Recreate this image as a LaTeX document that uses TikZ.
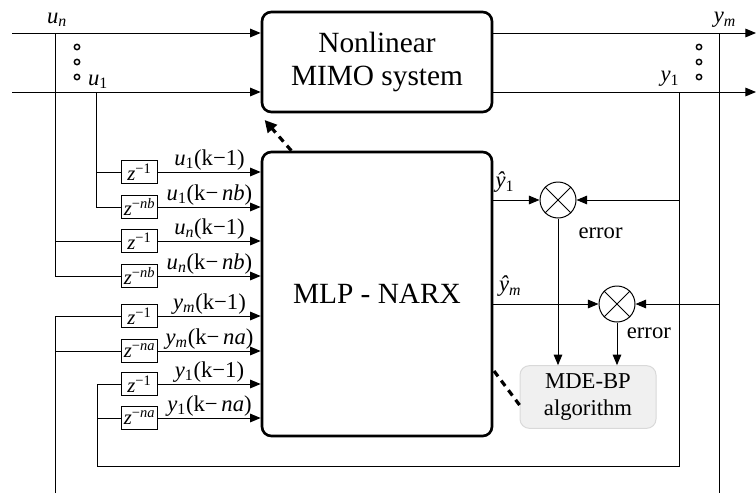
\documentclass[tikz,border=0pt]{standalone}
\usepackage{fontspec}
\setmainfont{Liberation Serif}
\usetikzlibrary{arrows.meta}

\begin{document}
\begin{tikzpicture}[x=0.75pt, y=-0.75pt, line width=0.75pt,
    arw/.style={-{Triangle[length=8pt,width=6.5pt]}},
    blk/.style={draw, line width=2pt, rounded corners=7pt, align=center, font=\fontsize{22}{25}\selectfont},
    zbox/.style={draw, minimum width=27.5pt, minimum height=17pt, inner sep=0pt, font=\fontsize{15.5}{15.5}\selectfont},
    lbl/.style={font=\fontsize{17}{19}\selectfont, inner sep=1pt},
    sum/.style={draw, circle, minimum size=27pt, inner sep=0pt},
    dotc/.style={draw, circle, line width=1.1pt, minimum size=4pt, inner sep=0pt},
    dsh/.style={line width=2.4pt, dash pattern=on 5pt off 4pt}]
  \useasboundingbox (0,0) rectangle (756,493);

  % main blocks
  \node[blk, minimum width=172.5pt, minimum height=75pt] (mimo) at (377,62) {Nonlinear\\MIMO system};
  \node[blk, minimum width=172.5pt, minimum height=213pt] (mlp) at (377,294) {MLP - NARX};
  \node[draw=black!15, fill=black!6, rounded corners=7pt, align=center, minimum width=102pt, minimum height=47pt,
        font=\fontsize{17}{20}\selectfont] (mde) at (588,397) {MDE-BP\\algorithm};
  \node[sum] (s1) at (558,200) {};
  \node[sum] (s2) at (617,304) {};
  \draw (s1.north west) -- (s1.south east) (s1.north east) -- (s1.south west);
  \draw (s2.north west) -- (s2.south east) (s2.north east) -- (s2.south west);

  % inputs u
  \coordinate (un) at (12,33);
  \coordinate (u1) at (12,92);
  \draw[arw] (un) -- (un -| mimo.west);
  \draw[arw] (u1) -- (u1 -| mimo.west);
  \node[lbl] (unl) at (57,20) {\textit{u}\textsubscript{\textit{n}}};
  \node[lbl] (u1l) at (98,82) {\textit{u}\textsubscript{1}};
  \foreach \yy [count=\i] in {47,62,77} {
    \node[dotc] (ld\i) at (77,\yy) {};
    \node[dotc] (rd\i) at (699,\yy) {};
  }

  % outputs y
  \coordinate (ym) at (756,33);
  \coordinate (y1) at (756,92);
  \draw[arw] (ym -| mimo.east) -- (ym);
  \draw[arw] (y1 -| mimo.east) -- (y1);
  \node[lbl] (yml) at (725,20) {\textit{y}\textsubscript{\textit{m}}};
  \node[lbl] (y1l) at (670,79) {\textit{y}\textsubscript{1}};

  % delay lines
  \foreach \yy/\zz/\lab [count=\i] in {
      172/{\textit{z}\textsuperscript{−1}}/{\textit{u}\textsubscript{1}(k−1)},
      207/{\textit{z}\textsuperscript{−\textit{nb}}}/{\textit{u}\textsubscript{1}(k−\,\textit{nb})},
      241/{\textit{z}\textsuperscript{−1}}/{\textit{u}\textsubscript{\textit{n}}(k−1)},
      276/{\textit{z}\textsuperscript{−\textit{nb}}}/{\textit{u}\textsubscript{\textit{n}}(k−\,\textit{nb})},
      316/{\textit{z}\textsuperscript{−1}}/{\textit{y}\textsubscript{\textit{m}}(k−1)},
      351/{\textit{z}\textsuperscript{−\textit{na}}}/{\textit{y}\textsubscript{\textit{m}}(k−\,\textit{na})},
      384/{\textit{z}\textsuperscript{−1}}/{\textit{y}\textsubscript{1}(k−1)},
      418/{\textit{z}\textsuperscript{−\textit{na}}}/{\textit{y}\textsubscript{1}(k−\,\textit{na})}} {
    \node[zbox] (z\i) at (139.5,\yy) {\zz};
    \draw[arw] (z\i.east) -- (z\i.east -| mlp.west) node[lbl, midway, above] {\lab};
  }

  % taps
  \coordinate (ta) at (55,33);
  \coordinate (tb) at (96,92);
  \coordinate (tc) at (55,493);
  \coordinate (td) at (679,92);
  \coordinate (te) at (719,33);
  \draw (ta) -- (ta |- z4.west) -- (z4.west);
  \draw (ta |- z3.west) -- (z3.west);
  \draw (tb) -- (tb |- z2.west) -- (z2.west);
  \draw (tb |- z1.west) -- (z1.west);
  \draw (tc) -- (tc |- z5.west) -- (z5.west);
  \draw (tc |- z6.west) -- (z6.west);
  \draw (td) -- (679,466) -- (97,466) -- (97,384) -- (z7.west);
  \draw (97,418) -- (z8.west);
  \draw (te) -- (719,493);

  % error paths
  \draw[arw] (s1.west -| mlp.east) -- (s1.west) node[lbl, pos=0.25, above=4pt] {\textit{ŷ}\textsubscript{1}};
  \draw[arw] (s2.west -| mlp.east) -- (s2.west) node[lbl, pos=0.16, above=4pt] {\textit{ŷ}\textsubscript{\textit{m}}};
  \draw[arw] (td |- s1.east) -- (s1.east);
  \draw[arw] (te |- s2.east) -- (s2.east);
  \draw[arw] (s1.south) -- (s1.south |- mde.north) node[lbl, pos=0.1, right=14pt] {error};
  \draw[arw] (s2.south) -- (s2.south |- mde.north) node[lbl, pos=0.25, right=6pt] {error};

  % training links
  \draw[dsh, -{Triangle[length=9pt,width=9pt]}] ([xshift=23pt]mlp.north west) -- ([xshift=3pt,yshift=-5pt]mimo.south west);
  \coordinate (dm) at (494,371);
  \draw[dsh] (dm) -- ([yshift=-6pt]mde.west);
\end{tikzpicture}
\end{document}
